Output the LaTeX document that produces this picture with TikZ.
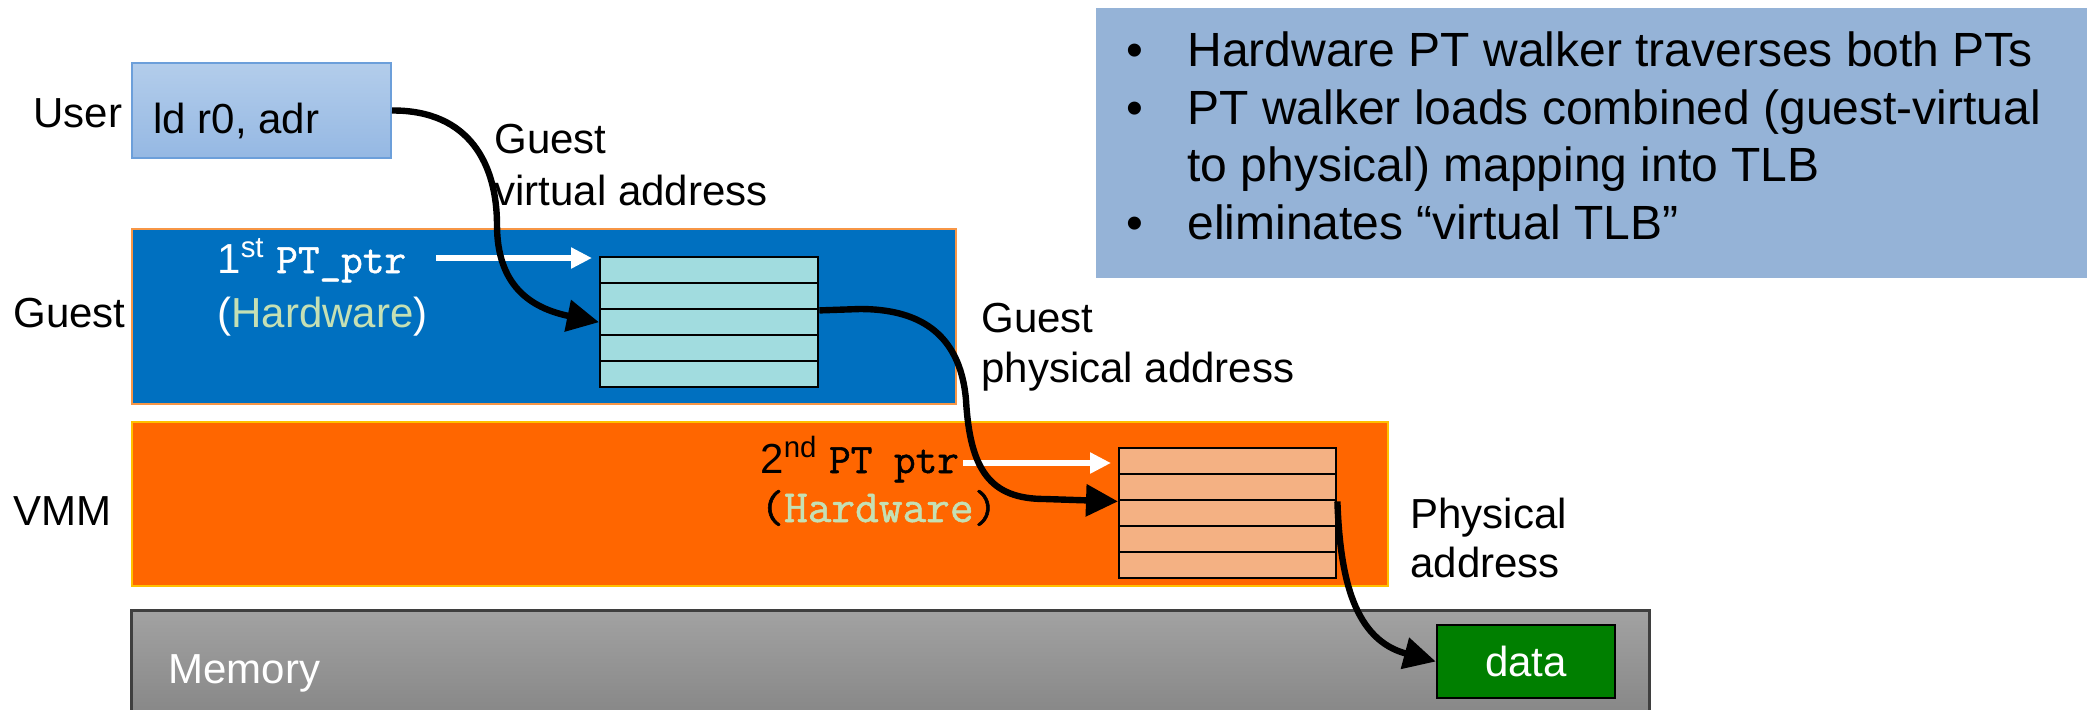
\documentclass[tikz,border=0pt]{standalone}
\usepackage{fontspec}
\setmainfont{Liberation Sans}
\newfontfamily\twfont{Latin Modern Mono}[FakeBold=1.2]
\usetikzlibrary{arrows.meta,calc}
\definecolor{usertop}{HTML}{B3CDEB}
\definecolor{userbot}{HTML}{95B8E3}
\definecolor{userborder}{HTML}{6C9FDA}
\definecolor{guestblue}{HTML}{0070C0}
\definecolor{guestborder}{HTML}{F79646}
\definecolor{tonefill}{HTML}{A1DCDF}
\definecolor{vmmorange}{HTML}{FF6600}
\definecolor{vmmborder}{HTML}{FFC000}
\definecolor{ttwofill}{HTML}{F4B183}
\definecolor{memtop}{HTML}{A2A2A2}
\definecolor{membot}{HTML}{838383}
\definecolor{memborder}{HTML}{3F3F3F}
\definecolor{datagreen}{HTML}{007F00}
\definecolor{infoblue}{HTML}{95B3D7}
\definecolor{hwgreen}{HTML}{C5E0B4}
\begin{document}
\begin{tikzpicture}[x=0.5pt,y=-0.5pt,
  lbl/.style={font=\fontsize{21}{26}\selectfont, inner sep=0pt, anchor=base west},
  info/.style={font=\fontsize{24}{29}\selectfont, inner sep=0pt, anchor=base west},
  band/.style={inner sep=0pt, anchor=north west, line width=1pt},
  ptrow/.style={draw=black, line width=1.2pt, inner sep=0pt, anchor=north west, minimum height=13pt},
  bigarrow/.style={line width=3.2pt, -{Triangle[length=16pt,width=15.5pt]}},
  whitearrow/.style={draw=white, line width=3pt, -{Triangle[length=10.5pt,width=10pt]}}]
\useasboundingbox (0,0) rectangle (2087,709);
\clip (0,0) rectangle (2087,709);

% info box
\node[band, fill=infoblue, minimum width=500pt, minimum height=135pt] (infobox) at (1095,7) {};
\node[info] (b1) at (1126,66) {•};
\node[info] (i1) at (1187,66) {Hardware PT walker traverses both PTs};
\node[info] (b2) at (1126,124) {•};
\node[info] (i2) at (1187,124) {PT walker loads combined (guest-virtual};
\node[info] (i3) at (1187,181) {to physical) mapping into TLB};
\node[info] (b4) at (1126,239) {•};
\node[info] (i4) at (1187,239) {eliminates “virtual TLB”};

% bands
\node[band, draw=userborder, top color=usertop, bottom color=userbot, minimum width=129.5pt, minimum height=47.5pt] (userbox) at (131,62) {};
\node[band, draw=guestborder, fill=guestblue, minimum width=412pt, minimum height=87.5pt] (guestband) at (131,228) {};
\node[band, draw=vmmborder, fill=vmmorange, minimum width=628pt, minimum height=82pt] (vmmband) at (131,421) {};
\node[band, draw=memborder, top color=memtop, bottom color=membot, line width=1.5pt, minimum width=759pt, minimum height=60pt] (memband) at (130,609) {};
\node[draw=black, line width=1.2pt, fill=datagreen, text=white, inner sep=0pt, minimum width=89pt, minimum height=36.5pt, font=\fontsize{21}{26}\selectfont] (databox) at (1526,661.5) {data};

% page tables
\foreach \i in {1,...,5} {
  \node[ptrow, fill=tonefill, minimum width=109pt] (t1r\i) at (599,{256+26*(\i-1)}) {};
  \node[ptrow, fill=ttwofill, minimum width=108.5pt] (t2r\i) at (1118,{447+26*(\i-1)}) {};
}

% labels
\node[lbl] (userlbl) at (33,127) {User};
\node[lbl] (ldtxt) at (153,133) {ld r0, adr};
\node[lbl] (gva1) at (494,153) {Guest};
\node[lbl] (gva2) at (494,205) {virtual address};
\node[lbl] (guestlbl) at (13,327) {Guest};
\node[lbl, text=white] (ptr1) at (217,273) {1\textsuperscript{st} {\twfont PT\_ptr}};
\node[lbl, text=white] (hw1) at (217,327) {(\textcolor{hwgreen}{Hardware})};
\node[lbl] (gpa1) at (981,332) {Guest};
\node[lbl] (gpa2) at (981,382) {physical address};
\node[lbl] (vmmlbl) at (13,525) {VMM};
\node[lbl] (ptr2) at (760,473) {2\textsuperscript{nd} {\twfont PT ptr}};
\node[lbl, font=\fontsize{23}{28}\selectfont\twfont] (hw2) at (760,522) {(\textcolor{hwgreen}{Hardware})};
\node[lbl] (pa1) at (1410,528) {Physical};
\node[lbl] (pa2) at (1410,577) {address};
\node[lbl, text=white] (memlbl) at (168,683) {Memory};

% white pointer arrows
\coordinate (w1s) at (436,258);
\coordinate (w2s) at (963,463);
\draw[whitearrow] (w1s) -- ([shift={(-3.5pt,-1pt)}]t1r1.north west);
\draw[whitearrow] (w2s) -- ([shift={(-3.5pt,-8pt)}]t2r1.north west);

% translation path
\draw[bigarrow] (userbox.east) .. controls (470,110) and (497,165) .. (497,225)
  .. controls (497,285) and (530,308) .. (t1r3.west);
\draw[bigarrow] (t1r2.south east) -- (860,309) .. controls (915,309) and (960,330) .. (966,400)
  .. controls (970,470) and (990,499) .. (1045,499) -- (t2r2.south west);
\draw[bigarrow] (t2r2.south east) .. controls (1340,580) and (1355,640) .. (databox.west);
\end{tikzpicture}
\end{document}
